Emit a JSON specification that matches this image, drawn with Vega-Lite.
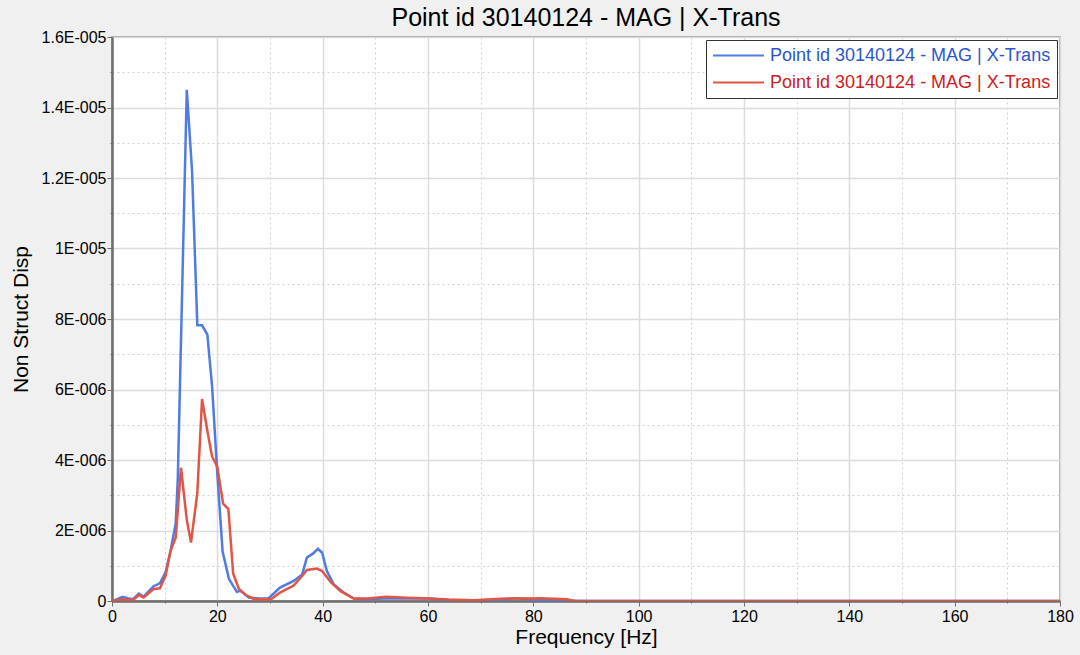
{
  "$schema": "https://vega.github.io/schema/vega-lite/v6.json",
  "width": 948,
  "height": 564,
  "autosize": {"type": "none"},
  "padding": {"left": 112, "top": 37, "right": 20, "bottom": 54},
  "background": "#f0f0f0",
  "title": {
    "text": "Point id 30140124 - MAG | X-Trans",
    "font": "Liberation Sans",
    "fontSize": 25,
    "fontWeight": "normal",
    "color": "#000000",
    "anchor": "middle",
    "offset": -2
  },
  "config": {
    "view": {"fill": "#ffffff", "stroke": "#8c8c8c", "strokeWidth": 1.5},
    "font": "Liberation Sans"
  },
  "data": {
    "values": [
      {"f": 0, "v": 0, "s": "Point id 30140124 - MAG | X-Trans"},
      {"f": 1, "v": 0.05e-6, "s": "Point id 30140124 - MAG | X-Trans"},
      {"f": 2, "v": 0.12e-6, "s": "Point id 30140124 - MAG | X-Trans"},
      {"f": 3, "v": 0.08e-6, "s": "Point id 30140124 - MAG | X-Trans"},
      {"f": 4, "v": 0.05e-6, "s": "Point id 30140124 - MAG | X-Trans"},
      {"f": 5.1, "v": 0.21e-6, "s": "Point id 30140124 - MAG | X-Trans"},
      {"f": 6, "v": 0.12e-6, "s": "Point id 30140124 - MAG | X-Trans"},
      {"f": 7, "v": 0.28e-6, "s": "Point id 30140124 - MAG | X-Trans"},
      {"f": 7.9, "v": 0.42e-6, "s": "Point id 30140124 - MAG | X-Trans"},
      {"f": 9.1, "v": 0.5e-6, "s": "Point id 30140124 - MAG | X-Trans"},
      {"f": 10.2, "v": 0.83e-6, "s": "Point id 30140124 - MAG | X-Trans"},
      {"f": 11.1, "v": 1.41e-6, "s": "Point id 30140124 - MAG | X-Trans"},
      {"f": 12.1, "v": 2.2e-6, "s": "Point id 30140124 - MAG | X-Trans"},
      {"f": 12.5, "v": 3.5e-6, "s": "Point id 30140124 - MAG | X-Trans"},
      {"f": 14.2, "v": 14.5e-6, "s": "Point id 30140124 - MAG | X-Trans"},
      {"f": 15.2, "v": 12.2e-6, "s": "Point id 30140124 - MAG | X-Trans"},
      {"f": 16.2, "v": 7.82e-6, "s": "Point id 30140124 - MAG | X-Trans"},
      {"f": 17.1, "v": 7.82e-6, "s": "Point id 30140124 - MAG | X-Trans"},
      {"f": 18.1, "v": 7.56e-6, "s": "Point id 30140124 - MAG | X-Trans"},
      {"f": 19.0, "v": 6.1e-6, "s": "Point id 30140124 - MAG | X-Trans"},
      {"f": 20.0, "v": 3.6e-6, "s": "Point id 30140124 - MAG | X-Trans"},
      {"f": 21.0, "v": 1.4e-6, "s": "Point id 30140124 - MAG | X-Trans"},
      {"f": 22.2, "v": 0.63e-6, "s": "Point id 30140124 - MAG | X-Trans"},
      {"f": 23.7, "v": 0.26e-6, "s": "Point id 30140124 - MAG | X-Trans"},
      {"f": 24.4, "v": 0.29e-6, "s": "Point id 30140124 - MAG | X-Trans"},
      {"f": 26.0, "v": 0.1e-6, "s": "Point id 30140124 - MAG | X-Trans"},
      {"f": 28.0, "v": 0.07e-6, "s": "Point id 30140124 - MAG | X-Trans"},
      {"f": 29.7, "v": 0.07e-6, "s": "Point id 30140124 - MAG | X-Trans"},
      {"f": 31.9, "v": 0.38e-6, "s": "Point id 30140124 - MAG | X-Trans"},
      {"f": 34.5, "v": 0.57e-6, "s": "Point id 30140124 - MAG | X-Trans"},
      {"f": 36.1, "v": 0.75e-6, "s": "Point id 30140124 - MAG | X-Trans"},
      {"f": 37.0, "v": 1.23e-6, "s": "Point id 30140124 - MAG | X-Trans"},
      {"f": 38.2, "v": 1.35e-6, "s": "Point id 30140124 - MAG | X-Trans"},
      {"f": 39.1, "v": 1.48e-6, "s": "Point id 30140124 - MAG | X-Trans"},
      {"f": 39.9, "v": 1.37e-6, "s": "Point id 30140124 - MAG | X-Trans"},
      {"f": 40.8, "v": 0.85e-6, "s": "Point id 30140124 - MAG | X-Trans"},
      {"f": 42.1, "v": 0.47e-6, "s": "Point id 30140124 - MAG | X-Trans"},
      {"f": 44.0, "v": 0.24e-6, "s": "Point id 30140124 - MAG | X-Trans"},
      {"f": 45.9, "v": 0.07e-6, "s": "Point id 30140124 - MAG | X-Trans"},
      {"f": 48.5, "v": 0.05e-6, "s": "Point id 30140124 - MAG | X-Trans"},
      {"f": 51.6, "v": 0.07e-6, "s": "Point id 30140124 - MAG | X-Trans"},
      {"f": 56.0, "v": 0.07e-6, "s": "Point id 30140124 - MAG | X-Trans"},
      {"f": 60.2, "v": 0.07e-6, "s": "Point id 30140124 - MAG | X-Trans"},
      {"f": 63.6, "v": 0.03e-6, "s": "Point id 30140124 - MAG | X-Trans"},
      {"f": 68.7, "v": 0.01e-6, "s": "Point id 30140124 - MAG | X-Trans"},
      {"f": 73.7, "v": 0.03e-6, "s": "Point id 30140124 - MAG | X-Trans"},
      {"f": 76.3, "v": 0.08e-6, "s": "Point id 30140124 - MAG | X-Trans"},
      {"f": 78.8, "v": 0.06e-6, "s": "Point id 30140124 - MAG | X-Trans"},
      {"f": 81.3, "v": 0.03e-6, "s": "Point id 30140124 - MAG | X-Trans"},
      {"f": 86.3, "v": 0.01e-6, "s": "Point id 30140124 - MAG | X-Trans"},
      {"f": 90, "v": 0, "s": "Point id 30140124 - MAG | X-Trans"},
      {"f": 180, "v": 0, "s": "Point id 30140124 - MAG | X-Trans"},
      {"f": 0, "v": 0, "s": "Point id 30140124 - MAG | X-Trans "},
      {"f": 2, "v": 0.05e-6, "s": "Point id 30140124 - MAG | X-Trans "},
      {"f": 4, "v": 0.03e-6, "s": "Point id 30140124 - MAG | X-Trans "},
      {"f": 5.1, "v": 0.17e-6, "s": "Point id 30140124 - MAG | X-Trans "},
      {"f": 6, "v": 0.1e-6, "s": "Point id 30140124 - MAG | X-Trans "},
      {"f": 7.9, "v": 0.34e-6, "s": "Point id 30140124 - MAG | X-Trans "},
      {"f": 9.1, "v": 0.36e-6, "s": "Point id 30140124 - MAG | X-Trans "},
      {"f": 10.2, "v": 0.73e-6, "s": "Point id 30140124 - MAG | X-Trans "},
      {"f": 11.1, "v": 1.41e-6, "s": "Point id 30140124 - MAG | X-Trans "},
      {"f": 12.1, "v": 1.8e-6, "s": "Point id 30140124 - MAG | X-Trans "},
      {"f": 13.1, "v": 3.78e-6, "s": "Point id 30140124 - MAG | X-Trans "},
      {"f": 14.2, "v": 2.3e-6, "s": "Point id 30140124 - MAG | X-Trans "},
      {"f": 15.0, "v": 1.66e-6, "s": "Point id 30140124 - MAG | X-Trans "},
      {"f": 16.2, "v": 3.07e-6, "s": "Point id 30140124 - MAG | X-Trans "},
      {"f": 17.1, "v": 5.73e-6, "s": "Point id 30140124 - MAG | X-Trans "},
      {"f": 18.1, "v": 4.83e-6, "s": "Point id 30140124 - MAG | X-Trans "},
      {"f": 19.0, "v": 4.1e-6, "s": "Point id 30140124 - MAG | X-Trans "},
      {"f": 20.0, "v": 3.8e-6, "s": "Point id 30140124 - MAG | X-Trans "},
      {"f": 21.1, "v": 2.76e-6, "s": "Point id 30140124 - MAG | X-Trans "},
      {"f": 22.1, "v": 2.61e-6, "s": "Point id 30140124 - MAG | X-Trans "},
      {"f": 23.0, "v": 0.78e-6, "s": "Point id 30140124 - MAG | X-Trans "},
      {"f": 24.1, "v": 0.34e-6, "s": "Point id 30140124 - MAG | X-Trans "},
      {"f": 25.4, "v": 0.17e-6, "s": "Point id 30140124 - MAG | X-Trans "},
      {"f": 27.0, "v": 0.05e-6, "s": "Point id 30140124 - MAG | X-Trans "},
      {"f": 29.0, "v": 0.05e-6, "s": "Point id 30140124 - MAG | X-Trans "},
      {"f": 30.2, "v": 0.05e-6, "s": "Point id 30140124 - MAG | X-Trans "},
      {"f": 31.9, "v": 0.24e-6, "s": "Point id 30140124 - MAG | X-Trans "},
      {"f": 34.5, "v": 0.44e-6, "s": "Point id 30140124 - MAG | X-Trans "},
      {"f": 36.1, "v": 0.71e-6, "s": "Point id 30140124 - MAG | X-Trans "},
      {"f": 37.0, "v": 0.88e-6, "s": "Point id 30140124 - MAG | X-Trans "},
      {"f": 38.9, "v": 0.92e-6, "s": "Point id 30140124 - MAG | X-Trans "},
      {"f": 39.9, "v": 0.85e-6, "s": "Point id 30140124 - MAG | X-Trans "},
      {"f": 41.5, "v": 0.54e-6, "s": "Point id 30140124 - MAG | X-Trans "},
      {"f": 43.4, "v": 0.28e-6, "s": "Point id 30140124 - MAG | X-Trans "},
      {"f": 45.9, "v": 0.07e-6, "s": "Point id 30140124 - MAG | X-Trans "},
      {"f": 48.5, "v": 0.07e-6, "s": "Point id 30140124 - MAG | X-Trans "},
      {"f": 52.0, "v": 0.12e-6, "s": "Point id 30140124 - MAG | X-Trans "},
      {"f": 56.0, "v": 0.09e-6, "s": "Point id 30140124 - MAG | X-Trans "},
      {"f": 60.2, "v": 0.07e-6, "s": "Point id 30140124 - MAG | X-Trans "},
      {"f": 64.0, "v": 0.04e-6, "s": "Point id 30140124 - MAG | X-Trans "},
      {"f": 68.7, "v": 0.02e-6, "s": "Point id 30140124 - MAG | X-Trans "},
      {"f": 71.2, "v": 0.04e-6, "s": "Point id 30140124 - MAG | X-Trans "},
      {"f": 75.0, "v": 0.07e-6, "s": "Point id 30140124 - MAG | X-Trans "},
      {"f": 78.8, "v": 0.07e-6, "s": "Point id 30140124 - MAG | X-Trans "},
      {"f": 81.3, "v": 0.08e-6, "s": "Point id 30140124 - MAG | X-Trans "},
      {"f": 86.3, "v": 0.05e-6, "s": "Point id 30140124 - MAG | X-Trans "},
      {"f": 88, "v": 0, "s": "Point id 30140124 - MAG | X-Trans "},
      {"f": 180, "v": 0, "s": "Point id 30140124 - MAG | X-Trans "}
    ]
  },
  "mark": {"type": "line", "strokeWidth": 2.5, "clip": true},
  "encoding": {
    "x": {
      "field": "f",
      "type": "quantitative",
      "scale": {"domain": [0, 180], "nice": false},
      "axis": {
        "title": "Frequency [Hz]",
        "titleFontSize": 21,
        "titleFontWeight": "normal",
        "titleColor": "#000000",
        "titlePadding": 2,
        "values": [0, 10, 20, 30, 40, 50, 60, 70, 80, 90, 100, 110, 120, 130, 140, 150, 160, 170, 180],
        "labelExpr": "datum.value % 20 == 0 ? datum.label : ''",
        "labelFontSize": 16,
        "labelColor": "#000000",
        "labelPadding": 2,
        "labelFlush": false,
        "labelOverlap": false,
        "domainColor": "#6e6e6e",
        "domainWidth": 2.5,
        "tickColor": "#6e6e6e",
        "tickSize": {"condition": {"test": "datum.value % 20 != 0", "value": 2}, "value": 5},
        "grid": true,
        "gridColor": {"condition": {"test": "datum.value % 20 != 0", "value": "#cfcfcf"}, "value": "#dcdcdc"},
        "gridWidth": {"condition": {"test": "datum.value % 20 != 0", "value": 1}, "value": 1.5},
        "gridDash": {"condition": {"test": "datum.value % 20 != 0", "value": [2, 3]}, "value": []}
      }
    },
    "y": {
      "field": "v",
      "type": "quantitative",
      "scale": {"domain": [0, 1.6e-5], "nice": false},
      "axis": {
        "title": "Non Struct Disp",
        "titleFontSize": 21,
        "titleFontWeight": "normal",
        "titleColor": "#000000",
        "titlePadding": 10,
        "values": [0, 1e-6, 2e-6, 3e-6, 4e-6, 5e-6, 6e-6, 7e-6, 8e-6, 9e-6, 1e-5, 1.1e-5, 1.2e-5, 1.3e-5, 1.4e-5, 1.5e-5, 1.6e-5],
        "labelExpr": "round(datum.value*1e6) % 2 != 0 ? '' : (datum.value == 0 ? '0' : (datum.value >= 9.9e-6 ? format(datum.value*1e5, '~g') + 'E-005' : format(datum.value*1e6, '~g') + 'E-006'))",
        "labelFontSize": 16,
        "labelColor": "#000000",
        "labelPadding": 1,
        "labelFlush": false,
        "labelOverlap": false,
        "domainColor": "#6e6e6e",
        "domainWidth": 2.5,
        "tickColor": "#6e6e6e",
        "tickSize": {"condition": {"test": "round(datum.value*1e6) % 2 != 0", "value": 2}, "value": 5},
        "grid": true,
        "gridColor": {"condition": {"test": "round(datum.value*1e6) % 2 != 0", "value": "#cfcfcf"}, "value": "#dcdcdc"},
        "gridWidth": {"condition": {"test": "round(datum.value*1e6) % 2 != 0", "value": 1}, "value": 1.5},
        "gridDash": {"condition": {"test": "round(datum.value*1e6) % 2 != 0", "value": [2, 3]}, "value": []}
      }
    },
    "color": {
      "field": "s",
      "type": "nominal",
      "scale": {
        "domain": ["Point id 30140124 - MAG | X-Trans", "Point id 30140124 - MAG | X-Trans "],
        "range": ["#4f7be3", "#e05545"]
      },
      "legend": {
        "title": null,
        "orient": "top-right",
        "offset": 3,
        "padding": 6,
        "fillColor": "#ffffff",
        "strokeColor": "#333333",
        "labelFontSize": 18,
        "labelFont": "Liberation Sans",
        "labelLimit": 400,
        "labelColor": {"expr": "datum.value == 'Point id 30140124 - MAG | X-Trans' ? '#2a55d0' : '#cc2020'"},
        "symbolType": "M-3,0H3",
        "symbolSize": 289,
        "symbolStrokeWidth": 2,
        "symbolOffset": 17,
        "labelOffset": 22,
        "rowPadding": 8
      }
    }
  }
}
